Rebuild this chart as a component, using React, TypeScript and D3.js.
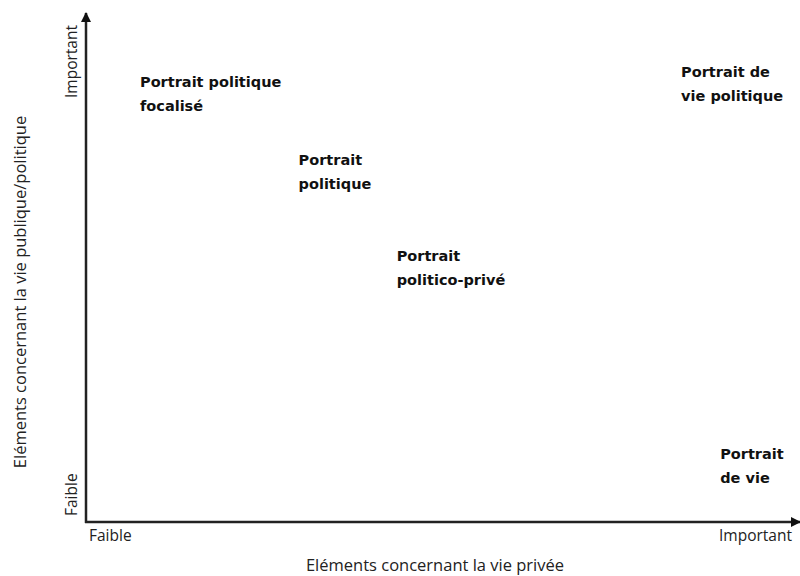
import React from "react";
import * as d3 from "d3";

const labels: string[][] = [
  ["Portrait politique", "focalisé"],
  ["Portrait", "politique"],
  ["Portrait", "politico-privé"],
  ["Portrait de", "vie politique"],
  ["Portrait", "de vie"],
];
const xVals = [0.76, 2.99, 4.37, 8.37, 8.92];
const yVals = [8.64, 7.11, 5.23, 8.84, 1.34];
const xTickLabels = ["Faible", "Important"];
const yTickLabels = ["Faible", "Important"];
const xTitle = "Eléments concernant la vie privée";
const yTitle = "Eléments concernant la vie publique/politique";

const W = 800;
const H = 576;
const x0 = 86;
const x1 = 797;
const yBase = 522;
const yTop = 13;

export default function App() {
  const x = d3.scaleLinear().domain([0, 10]).range([x0, x1]);
  const y = d3.scaleLinear().domain([0, 10]).range([yBase, yTop]);
  const axisFont = "'Open Sans', sans-serif";
  const lblFont = "'DejaVu Sans', sans-serif";
  return (
    <svg
      width={W}
      height={H}
      style={{ position: "absolute", left: 0, top: 0, background: "#fff" }}
    >
      <defs>
        <marker
          id="arr"
          viewBox="0 0 10 10"
          refX="9"
          refY="5"
          markerWidth="4"
          markerHeight="4"
          orient="auto"
        >
          <path d="M0,0 L10,5 L0,10 z" fill="#111" />
        </marker>
      </defs>
      {/* y axis */}
      <line
        x1={x0}
        y1={yBase + 1}
        x2={x0}
        y2={yTop}
        stroke="#222"
        strokeWidth={2.5}
        markerEnd="url(#arr)"
      />
      {/* x axis */}
      <line
        x1={x0 - 1}
        y1={yBase}
        x2={800}
        y2={yBase}
        stroke="#222"
        strokeWidth={2.5}
        markerEnd="url(#arr)"
      />
      {/* x tick labels */}
      <text x={89} y={541} fontFamily={axisFont} fontSize={15.5} fill="#222">
        {xTickLabels[0]}
      </text>
      <text x={792} y={541} textAnchor="end" fontFamily={axisFont} fontSize={15.5} fill="#222">
        {xTickLabels[1]}
      </text>
      {/* y tick labels */}
      <text
        transform={`translate(77,516) rotate(-90)`}
        fontFamily={axisFont}
        fontSize={15.5}
        fill="#222"
      >
        {yTickLabels[0]}
      </text>
      <text
        transform={`translate(77,25) rotate(-90)`}
        textAnchor="end"
        fontFamily={axisFont}
        fontSize={15.5}
        fill="#222"
      >
        {yTickLabels[1]}
      </text>
      {/* titles */}
      <text
        x={435}
        y={571}
        textAnchor="middle"
        fontFamily={axisFont}
        fontSize={16.5}
        fill="#222"
      >
        {xTitle}
      </text>
      <text
        transform={`translate(26,292) rotate(-90)`}
        textAnchor="middle"
        fontFamily={axisFont}
        fontSize={16.5}
        fill="#222"
      >
        {yTitle}
      </text>
      {labels.map((lines, i) => (
        <text
          key={i}
          x={x(xVals[i])}
          y={y(yVals[i])}
          fontFamily={lblFont}
          fontWeight="bold"
          fontSize={14.5}
          fill="#111"
        >
          {lines.map((l, j) => (
            <tspan key={j} x={x(xVals[i])} dy={j === 0 ? "0.35em" : 24}>
              {l}
            </tspan>
          ))}
        </text>
      ))}
    </svg>
  );
}
